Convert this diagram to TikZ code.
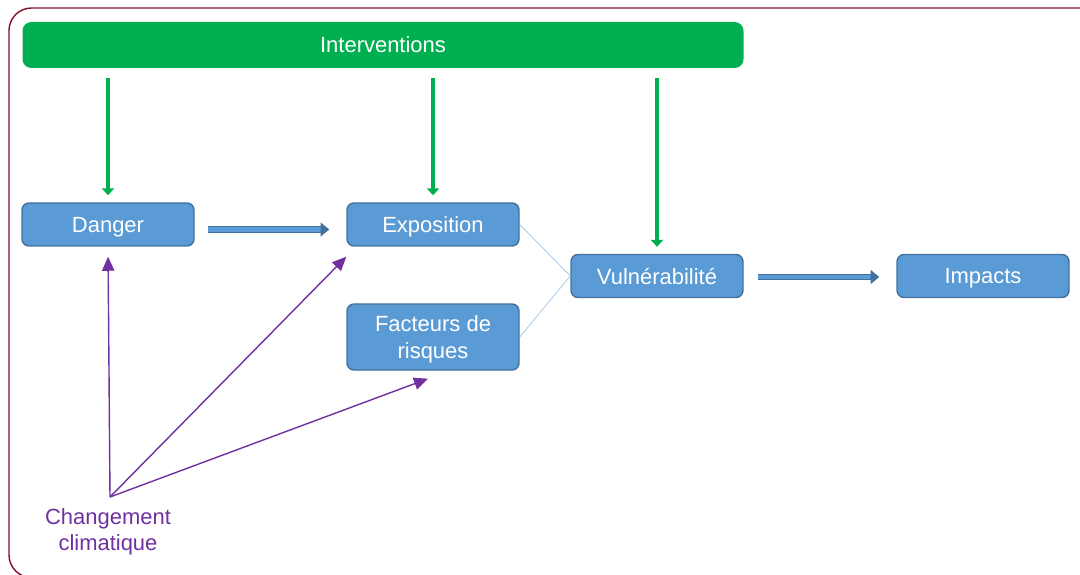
\documentclass[tikz,border=0pt]{standalone}
\usepackage{fontspec}
\setmainfont{Liberation Sans}
\usepackage{tikz}
\usetikzlibrary{arrows.meta, positioning, calc}
\definecolor{bargreen}{RGB}{0,176,80}
\definecolor{boxblue}{RGB}{91,155,213}
\definecolor{darkblue}{RGB}{65,113,156}
\definecolor{lineblue}{RGB}{157,195,230}
\definecolor{darkpurple}{RGB}{112,48,160}
\definecolor{framered}{RGB}{128,20,40}

\begin{document}
\begin{tikzpicture}[
    box/.style={draw=darkblue, fill=boxblue, thick, rounded corners=4pt, text=white,
                minimum width=3.44cm, minimum height=0.86cm, align=center,
                text depth=0pt, font=\fontsize{12.5}{15}\selectfont},
    greenarrow/.style={bargreen, line width=2.3pt, -{Triangle[length=4pt, width=7pt]},
                       shorten <=0.2cm, shorten >=0.14cm},
    bluearrow/.style={draw=darkblue, line width=0.7pt, double=boxblue, double distance=2.4pt,
                      -{Triangle[length=5pt, width=8pt]}},
    purplearrow/.style={darkpurple, line width=0.8pt, -{Triangle[length=8pt, width=7pt]}}
  ]
  % Frame
  \useasboundingbox (0,0) rectangle (21.6,-11.5);
  \clip (0,0) rectangle (21.6,-11.5);
  \draw[framered, line width=0.8pt, rounded corners=0.45cm]
    (22,-0.16) -- (0.18,-0.16) -- (0.18,-11.55) -- (22,-11.55);

  % Boxes
  \node[fill=bargreen, rounded corners=5pt, text=white, minimum width=14.42cm,
        minimum height=0.92cm, text depth=0pt, font=\fontsize{12.5}{15}\selectfont]
        (interv) at (7.66,-0.9) {Interventions};
  \node[box] (danger) at (2.16,-4.49) {Danger};
  \node[box] (expo)   at (8.66,-4.49) {Exposition};
  \node[box, minimum height=1.32cm] (fact) at (8.66,-6.74) {Facteurs de\\risques};
  \node[box] (vuln)   at (13.14,-5.52) {Vulnérabilité};
  \node[box] (impact) at (19.66,-5.52) {Impacts};
  \node[darkpurple, align=center, font=\fontsize{12.5}{15}\selectfont]
        (climat) at (2.16,-10.64) {Changement\\climatique};
  \coordinate (src) at (2.2,-9.94);

  % Interventions
  \draw[greenarrow] (interv.south -| danger.north) -- (danger.north);
  \draw[greenarrow] (interv.south -| expo.north) -- (expo.north);
  \draw[greenarrow] (interv.south -| vuln.north) -- (vuln.north);

  % Chain
  \draw[bluearrow, shorten <=0.26cm, shorten >=0.34cm]
    ([yshift=-0.1cm]danger.east) -- ([yshift=-0.1cm]expo.west);
  \draw[bluearrow, shorten <=0.28cm, shorten >=0.34cm]
    ([yshift=-0.02cm]vuln.east) -- ([yshift=-0.02cm]impact.west);
  \draw[lineblue, thin] (expo.east) -- (vuln.west);
  \draw[lineblue, thin] (fact.east) -- (vuln.west);

  % Climate change
  \draw[purplearrow, shorten >=0.2cm] (src) -- (danger.south);
  \draw[purplearrow] (src) -- ([yshift=-0.2cm]expo.south west);
  \draw[purplearrow] (src) -- ([xshift=-0.1cm, yshift=-0.16cm]fact.south);
\end{tikzpicture}
\end{document}
